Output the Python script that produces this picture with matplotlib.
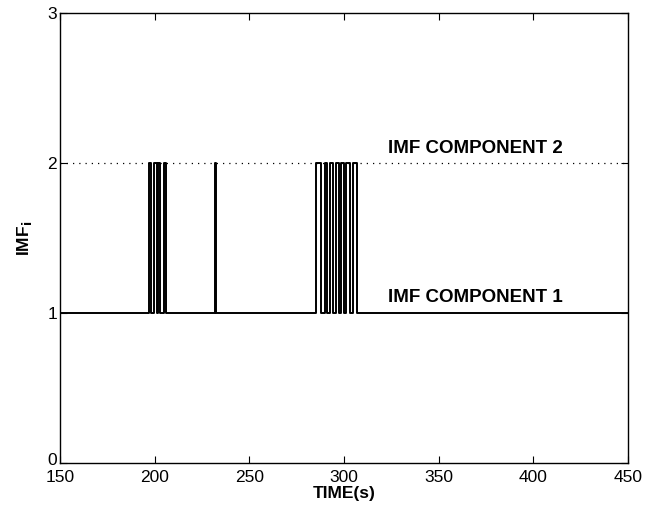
import matplotlib
matplotlib.use('Agg')
import matplotlib.pyplot as plt
import matplotlib.transforms as mtransforms
import numpy as np

plt.rcParams['font.family'] = ['Liberation Sans', 'DejaVu Sans']

# Time span and pulses where the signal jumps from IMF 1 to IMF 2
t_range = [150, 450]
pulse_start = [197.0, 199.5, 201.8, 205.0, 231.8,
               285.0, 289.8, 292.4, 296.0, 298.4, 301.0, 304.8]
pulse_end = [198.0, 201.0, 202.6, 205.8, 232.6,
             287.8, 291.0, 294.4, 297.2, 299.8, 303.4, 307.0]
base_level = 1
high_level = 2
xticks = [150, 200, 250, 300, 350, 400, 450]
yticks = [0, 1, 2, 3]

# build step signal from the pulse lists
t = [t_range[0]]
y = [base_level]
for s, e in zip(pulse_start, pulse_end):
    t += [s, s, e, e]
    y += [base_level, high_level, high_level, base_level]
t.append(t_range[1])
y.append(base_level)

fig = plt.figure(figsize=(6.62, 5.12), dpi=100)
ax = fig.add_axes([0.0906, 0.0957, 0.858, 0.879])

ax.axhline(high_level, color='black', linestyle=(0, (1, 4)), linewidth=0.9)
ax.plot(t, y, color='black', linewidth=1.4)

ax.text(323, 2.065, 'IMF COMPONENT 2', fontsize=13.5, fontweight='bold',
        ha='left', va='baseline')
ax.text(323, 1.07, 'IMF COMPONENT 1', fontsize=13.5, fontweight='bold',
        ha='left', va='baseline')

ax.set_xlim(t_range)
ax.set_ylim(0, 3)
ax.set_xticks(xticks)
ax.set_yticks(yticks)
ax.tick_params(direction='in', length=5, top=True, right=True, labelsize=12.5)
ax.tick_params(axis='x', pad=5)
ax.tick_params(axis='y', pad=2)
for sp in ax.spines.values():
    sp.set_linewidth(1.0)

# nudge the "0" label up a little so it doesn't collide with "150"
fig.canvas.draw()
zero_lbl = ax.get_yticklabels()[0]
zero_lbl.set_transform(zero_lbl.get_transform() +
                       mtransforms.ScaledTranslation(0, 3 / 72, fig.dpi_scale_trans))

ax.set_xlabel('TIME(s)', fontsize=12.5, fontweight='bold', labelpad=1)
ax.set_ylabel(r'IMF$_{\mathbf{i}}$', fontsize=12.5, fontweight='bold', labelpad=10)

fig.savefig('out.png', dpi=100, facecolor='white')
